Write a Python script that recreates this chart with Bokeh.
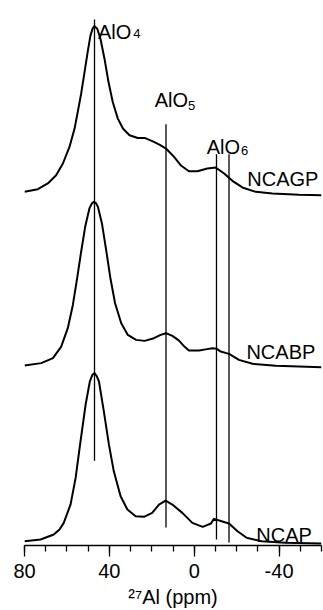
from bokeh.plotting import figure
from bokeh.models import Range1d, FixedTicker, ColumnDataSource
from bokeh.core.properties import value
from bokeh.embed import file_html
from bokeh.resources import INLINE

FONT = "Liberation Sans"

# 27Al MAS NMR spectra: chemical shift (ppm) and intensity (a.u.)
ncagp_ppm = [80, 73.7, 69.0, 65.1, 61.9, 58.8, 56.4, 54.9, 53.3, 51.7, 50.1, 48.9, 47.8,
             47.0, 45.7, 44.2, 42.3, 40.4, 38.4, 36.0, 33.6, 30.5, 26.6, 23.4, 19.0, 16.0,
             13.3, 9.5, 6.4, 2.5, -1.5, -6.2, -10.1, -14.1, -18.0, -22.7, -29.0, -36.9,
             -49.4, -60]
ncagp_int = [4.3, 7, 12.7, 21, 32.7, 49.3, 67.7, 84.3, 102.7, 124.3, 146, 161, 168.3,
             170.3, 167.7, 157.7, 137.7, 114.3, 94.3, 77.7, 67.7, 61, 58.3, 58.3, 54.3, 51,
             47.7, 39.3, 31, 25, 25, 27.7, 28.7, 22.7, 15.3, 8.7, 4.3, 2.7,
             1.3, 1]

ncabp_ppm = [80, 72.1, 66.6, 62.7, 59.6, 57.2, 55.2, 53.3, 51.4, 49.4, 48.3, 47.3, 46.3,
             45.4, 43.5, 41.5, 39.5, 37.3, 34.4, 31.3, 27.4, 23.4, 19.0, 15.8, 13.3, 10.3,
             7.3, 4.5, 2.5, -2.3, -5.4, -8.6, -10.6, -12.5, -16.4, -21.1, -27.5, -38.5, -60]
ncabp_int = [5.3, 7.7, 12.7, 24.3, 42.7, 66, 92.7, 119.3, 144.3, 162.7, 167.5, 169.3, 168,
             164.3, 147.7, 121, 92.7, 67.7, 47.7, 36, 31, 30, 32.7, 36, 37.7, 35,
             30.5, 24, 20.3, 20.3, 21.5, 22.7, 22, 19.3, 17, 11, 7, 5, 3.7]

ncap_ppm = [80, 72.4, 66.2, 63.5, 61.5, 58.3, 55.9, 53.6, 51.2, 49.2, 48.0, 47.0, 46.0,
            44.9, 42.6, 40.2, 37.9, 34.7, 31.5, 27.6, 23.7, 19.8, 16.6, 13.5, 10.3, 5.6,
            0.9, -4.0, -7.9, -9.3, -12.5, -16.4, -20.4, -24.7, -31.8, -42.8, -60]
ncap_int = [4.3, 6, 11, 16, 22.7, 41, 67.7, 104.3, 141, 164.3, 171, 172.7, 170,
            164.3, 134.3, 101, 74.3, 49.3, 36, 29.3, 28.7, 32.7, 41, 45, 41, 32.7,
            22.7, 18.7, 22, 26.7, 24.5, 22, 14.3, 7.7, 4.3, 2.7, 2]

sample_names = ["NCAGP", "NCABP", "NCAP"]
stack_offsets = [350, 175, 0]

# Site assignments (ppm)
site_ppm = [47, 13.3, -10.5, -16.4]

x_ticks = [80, 40, 0, -40]
x_title = "\u00b2\u2077Al (ppm)"

p = figure(width=323, height=610, x_range=Range1d(80, -60), y_range=Range1d(0, 546),
           output_backend="svg", toolbar_location=None, y_axis_location=None,
           min_border_left=24, min_border_right=2, min_border_top=0, min_border_bottom=64)
p.outline_line_color = None
p.xgrid.visible = False
p.ygrid.visible = False
p.background_fill_color = "white"
p.border_fill_color = "white"

# vertical guide lines for each Al coordination
p.segment(x0=site_ppm, x1=site_ppm, y0=[85, 18, 6, 3], y1=[527, 422, 392, 392],
          line_color="black", line_width=1.3)

# stacked spectra
for xs, ys, off in [(ncagp_ppm, ncagp_int, stack_offsets[0]),
                    (ncabp_ppm, ncabp_int, stack_offsets[1]),
                    (ncap_ppm, ncap_int, stack_offsets[2])]:
    p.line(xs, [y + off for y in ys], line_color="black", line_width=2, line_join="round")

# coordination labels: "AlO" with a subscript digit
site_src = ColumnDataSource(dict(x=[45.4, 18.65, -5.9], y=[514.3, 446, 399.7], t=["AlO", "AlO", "AlO"]))
p.text(x="x", y="y", text="t", source=site_src, text_font=value(FONT), text_font_size="20px",
       text_baseline="alphabetic", text_align="left", text_color="black")
sub_src = ColumnDataSource(dict(x=[28.7, 2.9, -22.1], y=[512.7, 441, 395.3], t=["4", "5", "6"]))
p.text(x="x", y="y", text="t", source=sub_src, text_font=value(FONT), text_font_size="13px",
       text_baseline="alphabetic", text_align="left", text_color="black")

# sample names
name_src = ColumnDataSource(dict(x=[-25.0, -24.6, -29.3], y=[366.7, 194.3, 11], t=sample_names))
p.text(x="x", y="y", text="t", source=name_src, text_font=value(FONT), text_font_size="20px",
       text_baseline="alphabetic", text_align="left", text_color="black")

# x axis
ax = p.xaxis[0]
ax.ticker = FixedTicker(ticks=x_ticks, minor_ticks=list(range(-60, 81, 10)))
ax.major_label_overrides = {t: str(t) for t in x_ticks}
ax.axis_line_width = 1.3
ax.major_tick_line_width = 1.3
ax.minor_tick_line_width = 1.3
ax.major_tick_out = 11
ax.major_tick_in = 0
ax.minor_tick_out = 6
ax.minor_tick_in = 0
ax.major_label_text_font = FONT
ax.major_label_text_font_size = "20px"
ax.major_label_text_color = "black"
ax.major_label_standoff = 7
ax.axis_label = x_title
ax.axis_label_text_font = FONT
ax.axis_label_text_font_size = "20px"
ax.axis_label_text_font_style = "normal"
ax.axis_label_text_color = "black"
ax.axis_label_standoff = 5

open("out.html", "w").write(file_html(p, INLINE))
